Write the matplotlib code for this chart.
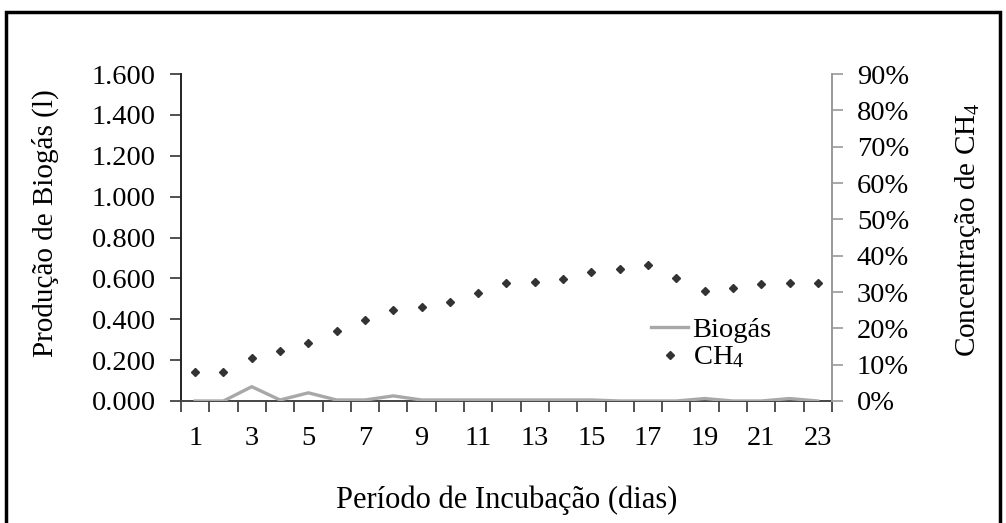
import matplotlib
matplotlib.use("Agg")
import matplotlib.pyplot as plt
import numpy as np
from matplotlib.lines import Line2D

plt.rcParams['font.family'] = ['Liberation Serif', 'DejaVu Serif']
plt.rcParams['mathtext.fontset'] = 'custom'
plt.rcParams['mathtext.rm'] = 'Liberation Serif'
plt.rcParams['mathtext.it'] = 'Liberation Serif:italic'

# ---- data ----
days = list(range(1, 24))
biogas = [0.0, 0.0, 0.070, 0.005, 0.040, 0.005, 0.005, 0.025, 0.005, 0.005,
          0.005, 0.005, 0.005, 0.005, 0.005, 0.0, 0.0, 0.0, 0.012, 0.0,
          0.0, 0.012, 0.0]
ch4 = [0.081, 0.081, 0.117, 0.138, 0.159, 0.193, 0.223, 0.250, 0.260, 0.273,
       0.296, 0.324, 0.327, 0.335, 0.354, 0.364, 0.374, 0.338, 0.304, 0.310,
       0.321, 0.324, 0.324]
left_ticks = [0.0, 0.2, 0.4, 0.6, 0.8, 1.0, 1.2, 1.4, 1.6]
right_ticks = [0.0, 0.1, 0.2, 0.3, 0.4, 0.5, 0.6, 0.7, 0.8, 0.9]
xlabels_days = list(range(1, 24, 2))

W, H = 1006, 523
fig = plt.figure(figsize=(W / 100, H / 100), dpi=100)
ax = fig.add_axes([181 / W, 1 - 401 / H, (832 - 181) / W, (401 - 74) / H])
ax2 = ax.twinx()

tick_fs = 20.5
lab_fs = 21
xlab_fs = 22

# biogas line
ax.plot(days, biogas, color='#a8a8a8', lw=2.4, zorder=3)
ax.set_xlim(0.5, 23.5)
ax.set_ylim(0, 1.6)
ax.set_yticks(left_ticks)
ax.set_yticklabels([f"{v:.3f}" for v in left_ticks], fontsize=tick_fs)
ax.set_xticks(np.arange(0.5, 23.6, 1.0))
ax.set_xticklabels([])
ax.set_xticks(xlabels_days, minor=True)
ax.set_xticklabels([str(d) for d in xlabels_days], minor=True, fontsize=tick_fs)
ax.tick_params(axis='x', which='major', direction='out', length=8, width=1.2, color='#333333')
ax.tick_params(axis='x', which='minor', length=0, pad=18)
ax.tick_params(axis='y', direction='out', length=8, width=1.2, color='#333333', pad=10)
for s in ['top', 'right']:
    ax.spines[s].set_visible(False)
ax.spines['left'].set_color('#222222')
ax.spines['left'].set_linewidth(1.4)
ax.spines['bottom'].set_color('#444444')
ax.spines['bottom'].set_linewidth(1.4)

# CH4 points
ax2.plot(days, ch4, linestyle='none', marker='D', markersize=4.2, color='#333333', zorder=4)
ax2.set_ylim(0, 0.9)
ax2.set_yticks(right_ticks)
ax2.set_yticklabels([f"{int(round(v * 100))}%" for v in right_ticks], fontsize=tick_fs)
ax2.tick_params(axis='y', direction='out', length=8, width=1.2, color='#999999', pad=10)
for s in ['top', 'left', 'bottom']:
    ax2.spines[s].set_visible(False)
ax2.spines['right'].set_color('#999999')
ax2.spines['right'].set_linewidth(1.4)

fig.text(45 / W, 1 - 223 / H, 'Produção de Biogás (l)', fontsize=lab_fs, rotation=90,
         ha='center', va='center')
fig.text(968 / W, 1 - 230 / H, 'Concentração de CH$_4$', fontsize=lab_fs, rotation=90,
         ha='center', va='center')
fig.text(507 / W, 1 - 500 / H, 'Período de Incubação (dias)', fontsize=xlab_fs,
         ha='center', va='center')

handles = [Line2D([0], [0], color='#a8a8a8', lw=2.4),
           Line2D([0], [0], linestyle='none', marker='D', markersize=4.2, color='#333333')]
fig.legend(handles, ['Biogás', 'CH$_4$'], loc='upper left', bbox_to_anchor=(637 / W, 1 - 303 / H),
           frameon=False, fontsize=tick_fs, handlelength=1.3, handletextpad=0.15,
           labelspacing=0.05, borderpad=0)

# outer frame
frame = plt.Rectangle((6 / W, -0.05), (1000 - 6) / W, 1 - 12 / H + 0.05, transform=fig.transFigure,
                      fill=False, edgecolor='black', lw=2.5, zorder=10)
fig.patches.append(frame)

fig.savefig('out.png', dpi=100)
